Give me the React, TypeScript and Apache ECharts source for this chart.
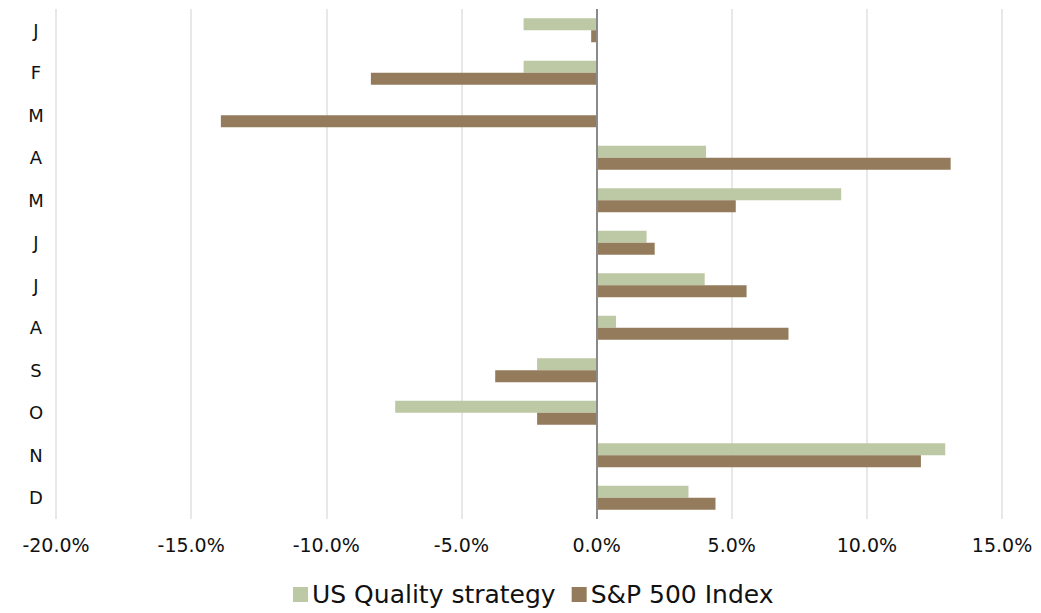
import React, { useEffect, useRef } from "react";
import * as echarts from "echarts";

const months = ["J", "F", "M", "A", "M", "J", "J", "A", "S", "O", "N", "D"];
const qualityValues = [-2.7, -2.7, 0, 4.05, 9.05, 1.85, 4.0, 0.72, -2.2, -7.45, 12.9, 3.4];
const sp500Values = [-0.2, -8.35, -13.9, 13.1, 5.15, 2.15, 5.55, 7.1, -3.75, -2.2, 12.0, 4.4];
const seriesNames = ["US Quality strategy", "S&P 500 Index"];

const FONT = "DejaVu Sans";

export default function App() {
  const ref = useRef<HTMLDivElement>(null);
  useEffect(() => {
    if (!ref.current) return;
    const chart = echarts.init(ref.current, undefined, { renderer: "svg" });
    chart.setOption({
      animation: false,
      backgroundColor: "#ffffff",
      grid: { left: 56, right: 39, top: 9, bottom: 94, containLabel: false },
      legend: {
        top: 582,
        left: 293,
        padding: 0,
        itemWidth: 15,
        itemHeight: 15,
        itemGap: 16,
        icon: "rect",
        textStyle: { fontFamily: FONT, fontSize: 25, color: "#111", padding: [0, 0, 0, -1] },
        data: seriesNames,
      },
      xAxis: {
        type: "value",
        min: -20,
        max: 15,
        interval: 5,
        axisLine: { show: false },
        axisTick: { show: false },
        splitLine: { show: true, lineStyle: { color: "#e0e0e0", width: 1.5 } },
        axisLabel: {
          fontFamily: FONT,
          fontSize: 19,
          color: "#111",
          margin: 16,
          formatter: (v: number) => v.toFixed(1) + "%",
        },
      },
      yAxis: {
        type: "category",
        data: months,
        inverse: true,
        axisLine: { show: false, onZero: false },
        axisTick: { show: false },
        splitLine: { show: false },
        axisLabel: {
          fontFamily: FONT,
          fontSize: 18,
          color: "#111",
          align: "center",
          margin: 20,
        },
      },
      series: [
        {
          name: seriesNames[0],
          type: "bar",
          data: qualityValues,
          barWidth: 12,
          barGap: "0%",
          itemStyle: { color: "#bdc8a5" },
        },
        {
          name: seriesNames[1],
          type: "bar",
          data: sp500Values,
          barWidth: 12,
          barGap: "0%",
          itemStyle: { color: "#937b5b" },
          markLine: {
            silent: true,
            symbol: "none",
            label: { show: false },
            lineStyle: { color: "#8a8a8a", width: 2, type: "solid" },
            data: [{ xAxis: 0 }],
          },
        },
      ],
    });
    return () => chart.dispose();
  }, []);
  return <div ref={ref} style={{ width: 1041, height: 613, position: "absolute", left: 0, top: 0 }} />;
}
